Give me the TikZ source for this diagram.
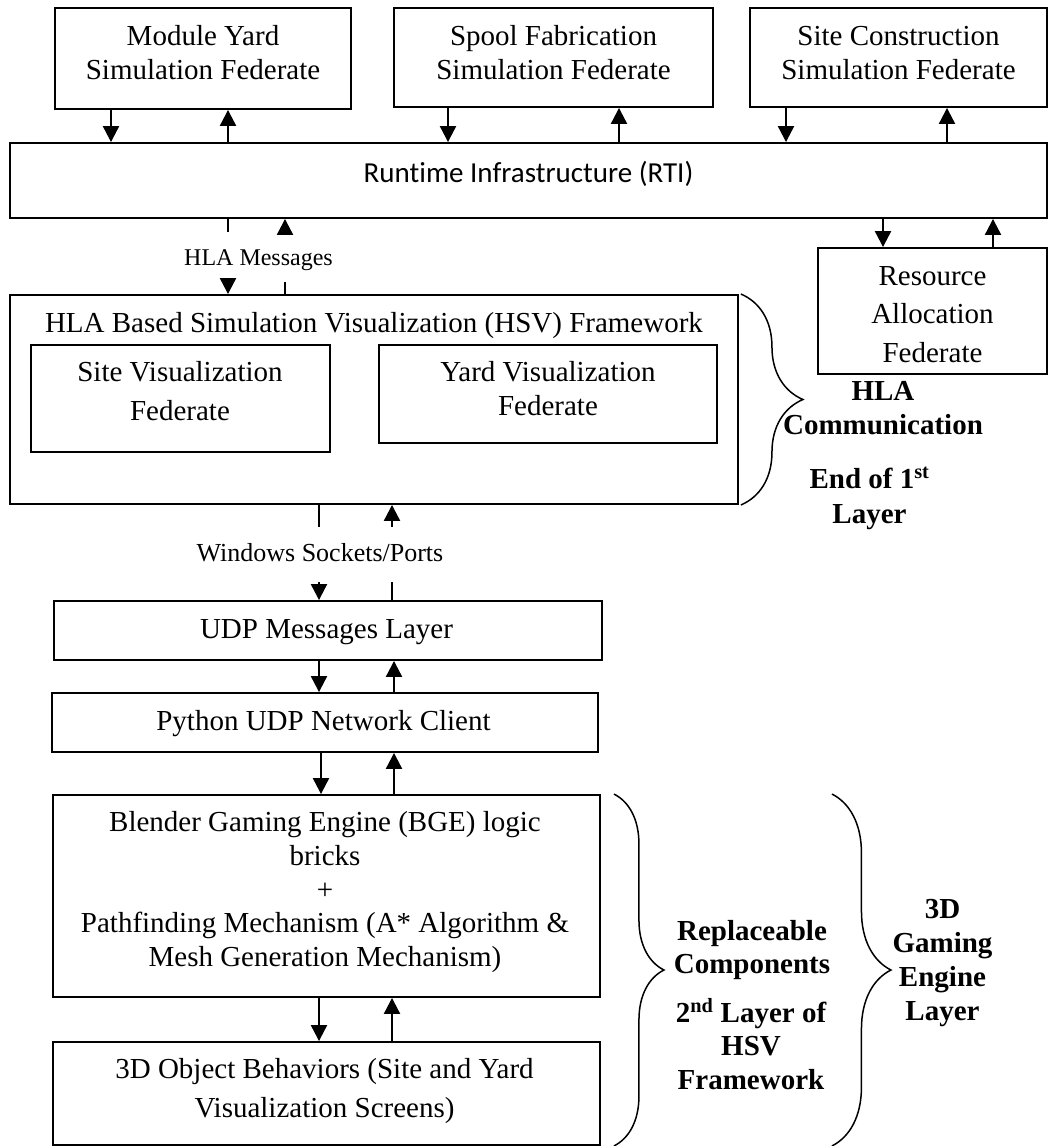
\documentclass[tikz,border=0pt]{standalone}
\usepackage{fontspec}
\setmainfont{Liberation Serif}
\newfontfamily\rtifont[Ligatures=NoCommon]{Carlito}
\usetikzlibrary{arrows.meta,decorations.pathreplacing}

\tikzset{
  box/.style={draw, line width=1.9pt, rectangle, inner sep=0pt},
  % texts are placed by the baseline of their last line
  txt/.style={anchor=base, align=center, inner sep=0pt, font=\fontsize{29}{34}\selectfont},
  bold/.style={txt, font=\bfseries\fontsize{29}{34}\selectfont},
  gaplabel/.style={inner sep=0pt, outer sep=0pt, align=center},
  arr/.style={line width=2.2pt, -{Triangle[width=16pt,length=16pt]}},
  stub/.style={line width=2.2pt},
  curly/.style={decorate, line width=1.5pt, decoration={brace, amplitude=#1}},
}

\begin{document}
\begin{tikzpicture}[x=1pt, y=-1pt]
\useasboundingbox (0,0) rectangle (1050,1146);

% --- simulation federates and the RTI ---
\node[box, minimum width=296pt, minimum height=101pt] (my) at (203,58.5) {};
\node[box, minimum width=319pt, minimum height=99pt] (sf) at (553.5,57.5) {};
\node[box, minimum width=297pt, minimum height=99pt] (sc) at (898.5,57.5) {};
\node[box, minimum width=1037pt, minimum height=75pt] (rti) at (528.5,180.5) {};
\node[box, minimum width=229pt, minimum height=126pt] (ra) at (932.5,311) {};

\node[txt] (myt) at (203,79) {Module Yard\\Simulation Federate};
\node[txt] (sft) at (553.5,79) {Spool Fabrication\\Simulation Federate};
\node[txt] (sct) at (898.5,79) {Site Construction\\Simulation Federate};
\node[txt, font=\rtifont\fontsize{29}{34}\selectfont] (rtit) at (528.5,182) {Runtime Infrastructure (RTI)};
\node[txt, font=\fontsize{29}{38.5}\selectfont] (rat) at (932.5,362) {Resource\\Allocation\\Federate};

% --- HSV framework ---
\node[box, minimum width=728pt, minimum height=209pt] (hsv) at (374,399.5) {};
\node[box, minimum width=299pt, minimum height=107pt] (sv) at (180.5,398.5) {};
\node[box, minimum width=338pt, minimum height=98pt] (yv) at (548,394) {};
\node[txt] (hsvt) at (374,332) {HLA Based Simulation Visualization (HSV) Framework};
\node[txt, font=\fontsize{29}{39}\selectfont] (svt) at (180,420) {Site Visualization\\Federate};
\node[txt] (yvt) at (548,415) {Yard Visualization\\Federate};

\node[bold, font=\bfseries\fontsize{29}{33.5}\selectfont] (hlac) at (883,434) {HLA\\Communication};
\node[bold, font=\bfseries\fontsize{29}{35}\selectfont] (endl) at (869.5,523) {End of 1\textsuperscript{st}\\Layer};

% --- game engine side ---
\node[box, minimum width=548pt, minimum height=59pt] (udp) at (328,630.5) {};
\node[box, minimum width=546pt, minimum height=59pt] (py) at (325,722.5) {};
\node[box, minimum width=547pt, minimum height=202pt] (bge) at (326.5,896) {};
\node[box, minimum width=547pt, minimum height=103pt] (obj) at (326.5,1093.5) {};

\node[txt] (udpt) at (326.5,638) {UDP Messages Layer};
\node[txt] (pyt) at (323.5,730) {Python UDP Network Client};
\node[txt, font=\fontsize{29}{33.75}\selectfont] (bget) at (325,966.7)
  {Blender Gaming Engine (BGE) logic\\bricks\\+\\Pathfinding Mechanism (A* Algorithm \&\\Mesh Generation Mechanism)};
\node[txt, font=\fontsize{29}{39}\selectfont] (objt) at (324.5,1117)
  {3D Object Behaviors (Site and Yard\\Visualization Screens)};

\node[bold, font=\bfseries\fontsize{29}{33}\selectfont] (rct) at (752,973) {Replaceable\\Components};
\node[bold, font=\bfseries\fontsize{29}{33.5}\selectfont] (hsvl) at (751,1089) {2\textsuperscript{nd} Layer of\\HSV\\Framework};
\node[bold] (gel) at (942.5,1020) {3D\\Gaming\\Engine\\Layer};

% --- labels sitting in the gaps of the connectors ---
\node[gaplabel, minimum height=50pt, text height=17pt, text depth=1pt, font=\fontsize{24}{28}\selectfont] (hlamsg) at (258.5,257) {HLA Messages};
\node[gaplabel, minimum height=55pt, text height=18pt, text depth=5pt, font=\fontsize{26}{30}\selectfont] (wsp) at (320,554.5) {Windows Sockets/Ports};

% --- connectors: federates <-> RTI ---
\draw[arr] ([xshift=-92pt]my.south) -- ([xshift=-92pt]my.south |- rti.north);
\draw[arr] ([xshift=25pt]my.south |- rti.north) -- ([xshift=25pt]my.south);
\draw[arr] ([xshift=-105.5pt]sf.south) -- ([xshift=-105.5pt]sf.south |- rti.north);
\draw[arr] ([xshift=65.5pt]sf.south |- rti.north) -- ([xshift=65.5pt]sf.south);
\draw[arr] ([xshift=-112.5pt]sc.south) -- ([xshift=-112.5pt]sc.south |- rti.north);
\draw[arr] ([xshift=48.5pt]sc.south |- rti.north) -- ([xshift=48.5pt]sc.south);
\draw[arr] ([xshift=-49.5pt]ra.north |- rti.south) -- ([xshift=-49.5pt]ra.north);
\draw[arr] ([xshift=60.5pt]ra.north) -- ([xshift=60.5pt]ra.north |- rti.south);

% --- RTI <-> HSV through HLA messages ---
\draw[stub] ([xshift=-146pt]hsv.north |- rti.south) -- ([xshift=-146pt]hsv.north |- hlamsg.north);
\draw[arr] ([xshift=-146pt]hsv.north |- hlamsg.south) -- ([xshift=-146pt]hsv.north);
\draw[arr] ([xshift=-89pt]hsv.north |- hlamsg.north) -- ([xshift=-89pt]hsv.north |- rti.south);
\draw[stub] ([xshift=-89pt]hsv.north) -- ([xshift=-89pt]hsv.north |- hlamsg.south);

% --- HSV <-> UDP through sockets ---
\draw[stub] ([xshift=-9pt]udp.north |- hsv.south) -- ([xshift=-9pt]udp.north |- wsp.north);
\draw[arr] ([xshift=-9pt]udp.north |- wsp.south) -- ([xshift=-9pt]udp.north);
\draw[arr] ([xshift=64pt]udp.north |- wsp.north) -- ([xshift=64pt]udp.north |- hsv.south);
\draw[stub] ([xshift=64pt]udp.north) -- ([xshift=64pt]udp.north |- wsp.south);

% --- engine stack ---
\draw[arr] ([xshift=-6pt]py.north |- udp.south) -- ([xshift=-6pt]py.north);
\draw[arr] ([xshift=69pt]py.north) -- ([xshift=69pt]py.north |- udp.south);
\draw[arr] ([xshift=-5.5pt]bge.north |- py.south) -- ([xshift=-5.5pt]bge.north);
\draw[arr] ([xshift=67.5pt]bge.north) -- ([xshift=67.5pt]bge.north |- py.south);
\draw[arr] ([xshift=-7.5pt]obj.north |- bge.south) -- ([xshift=-7.5pt]obj.north);
\draw[arr] ([xshift=65.5pt]obj.north) -- ([xshift=65.5pt]obj.north |- bge.south);

% --- braces ---
\draw[curly=62pt] ([xshift=2pt]hsv.north east) -- ([xshift=2pt]hsv.south east);
\draw[curly=50pt] ([xshift=13pt]bge.north east) -- ([xshift=13pt]obj.south east);
\draw[curly=59pt] ([xshift=231pt]bge.north east) -- ([xshift=231pt]obj.south east);
\end{tikzpicture}
\end{document}
